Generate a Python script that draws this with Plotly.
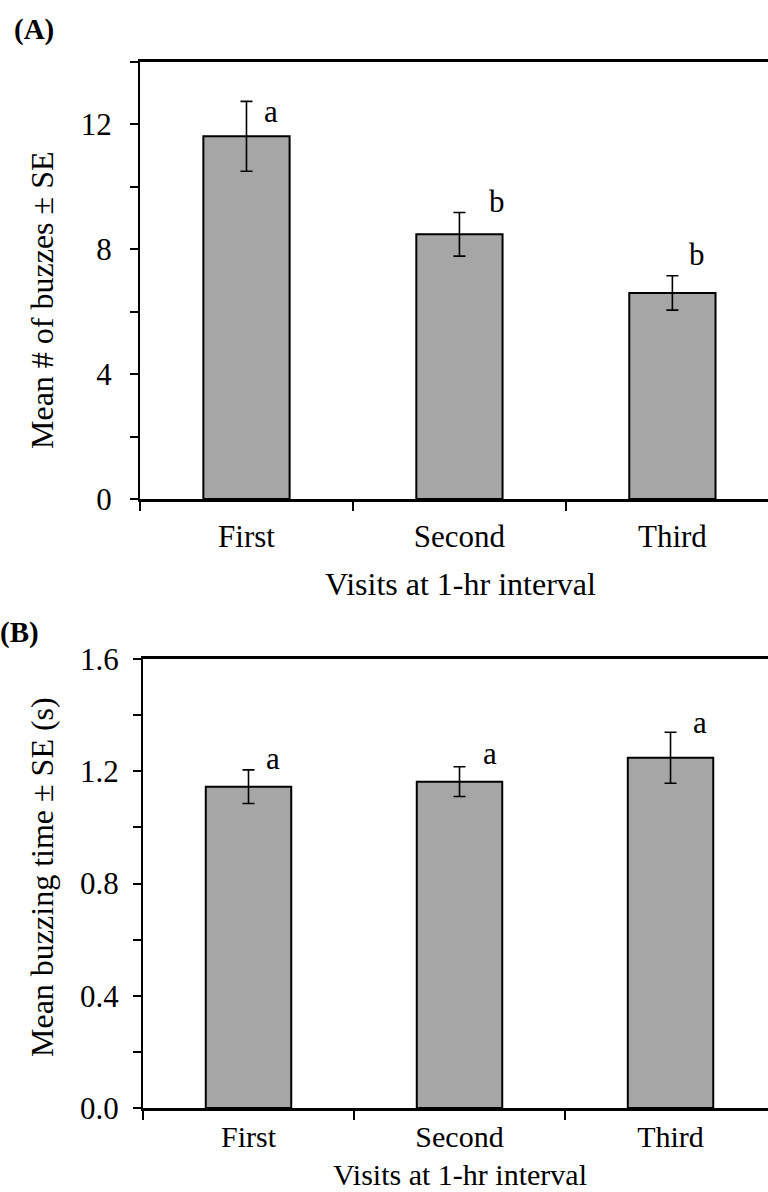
import plotly.graph_objects as go

categories = ["First", "Second", "Third"]
buzzes_mean = [11.62, 8.48, 6.60]
buzzes_se = [1.12, 0.70, 0.55]
buzzes_letters = ["a", "b", "b"]
time_mean = [1.145, 1.163, 1.248]
time_se = [0.060, 0.053, 0.091]
time_letters = ["a", "a", "a"]
yticks_a = [0, 4, 8, 12]
yticks_b = [0.0, 0.4, 0.8, 1.2, 1.6]
yticklabels_b = ["0.0", "0.4", "0.8", "1.2", "1.6"]

W, H = 768, 1192
FONT = "Liberation Serif, Times New Roman, serif"
BAR = "#a6a6a6"

fig = go.Figure()

def add_bars(xa, ya, mean, se):
    fig.add_trace(go.Bar(
        x=categories, y=mean, xaxis=xa, yaxis=ya, width=0.405,
        marker=dict(color=BAR, line=dict(color="black", width=2)),
        error_y=dict(type="data", array=se, visible=True, color="black",
                     thickness=1.6, width=6),
        showlegend=False, hoverinfo="skip"))

add_bars("x", "y", buzzes_mean, buzzes_se)
add_bars("x2", "y2", time_mean, time_se)

# small per-letter placement offsets (pixels) relative to the error-bar top
shift_a = [(25, -30), (38, -9), (25, 2)]
shift_b = [(24, -8), (30, -6), (29, -10)]

for i, c in enumerate(categories):
    fig.add_annotation(x=c, y=buzzes_mean[i] + buzzes_se[i], xref="x", yref="y",
                       text=buzzes_letters[i], showarrow=False, xanchor="center",
                       yanchor="bottom", xshift=shift_a[i][0], yshift=shift_a[i][1],
                       font=dict(family=FONT, size=31, color="black"))
    fig.add_annotation(x=c, y=time_mean[i] + time_se[i], xref="x2", yref="y2",
                       text=time_letters[i], showarrow=False, xanchor="center",
                       yanchor="bottom", xshift=shift_b[i][0], yshift=shift_b[i][1],
                       font=dict(family=FONT, size=31, color="black"))

tickfont = dict(family=FONT, size=31, color="black")

xcommon = dict(type="category", showline=True, linecolor="black", linewidth=3,
               mirror=True, ticks="outside", tickson="boundaries", ticklen=9,
               tickwidth=2, tickcolor="black",
               showgrid=False, zeroline=False, automargin=False)

ycommon = dict(ticks="outside", ticklen=8, tickwidth=2, tickcolor="black",
               showline=True, linecolor="black", linewidth=2,
               tickfont=tickfont, showgrid=False, zeroline=False,
               automargin=False)

fig.update_layout(
    width=W, height=H,
    margin=dict(l=0, r=0, t=0, b=0, pad=0, autoexpand=False),
    paper_bgcolor="white", plot_bgcolor="white",
    xaxis=dict(domain=[140 / W, 1], range=[-0.5, 2.449], anchor="y",
               ticklabelstandoff=8, tickfont=tickfont, **xcommon),
    yaxis=dict(domain=[1 - 499 / H, 1 - 62 / H], range=[0, 14], anchor="x",
               tickvals=yticks_a, ticklabelstandoff=12,
               minor=dict(dtick=2, tick0=0, ticks="outside", ticklen=8,
                          tickwidth=2, tickcolor="black"), **ycommon),
    xaxis2=dict(domain=[143 / W, 1], range=[-0.5, 2.462], anchor="y2",
                ticklabelstandoff=0, tickfont=dict(family=FONT, size=30, color="black"),
                **xcommon),
    yaxis2=dict(domain=[1 - 1108 / H, 1 - 659 / H], range=[0, 1.6], anchor="x2",
                tickvals=yticks_b, ticktext=yticklabels_b, ticklabelstandoff=8,
                minor=dict(dtick=0.2, tick0=0, ticks="outside", ticklen=8,
                           tickwidth=2, tickcolor="black"), **ycommon),
)

def txt(x, y, s, size=32, angle=0, bold=False, xanchor="center"):
    fig.add_annotation(x=x / W, y=1 - y / H, xref="paper", yref="paper",
                       text=f"<b>{s}</b>" if bold else s, showarrow=False,
                       textangle=angle, xanchor=xanchor, yanchor="middle",
                       font=dict(family=FONT, size=size, color="black"))

txt(12, 29, "(A)", size=29, bold=True, xanchor="left")
txt(-2, 632, "(B)", size=29, bold=True, xanchor="left")
txt(460, 584, "Visits at 1-hr interval")
txt(460, 1174, "Visits at 1-hr interval", size=30)
txt(42, 301, "Mean # of buzzes ± SE", size=32, angle=-90)
txt(42, 877, "Mean buzzing time ± SE (s)", size=32, angle=-90)

fig.write_html("out.html")
